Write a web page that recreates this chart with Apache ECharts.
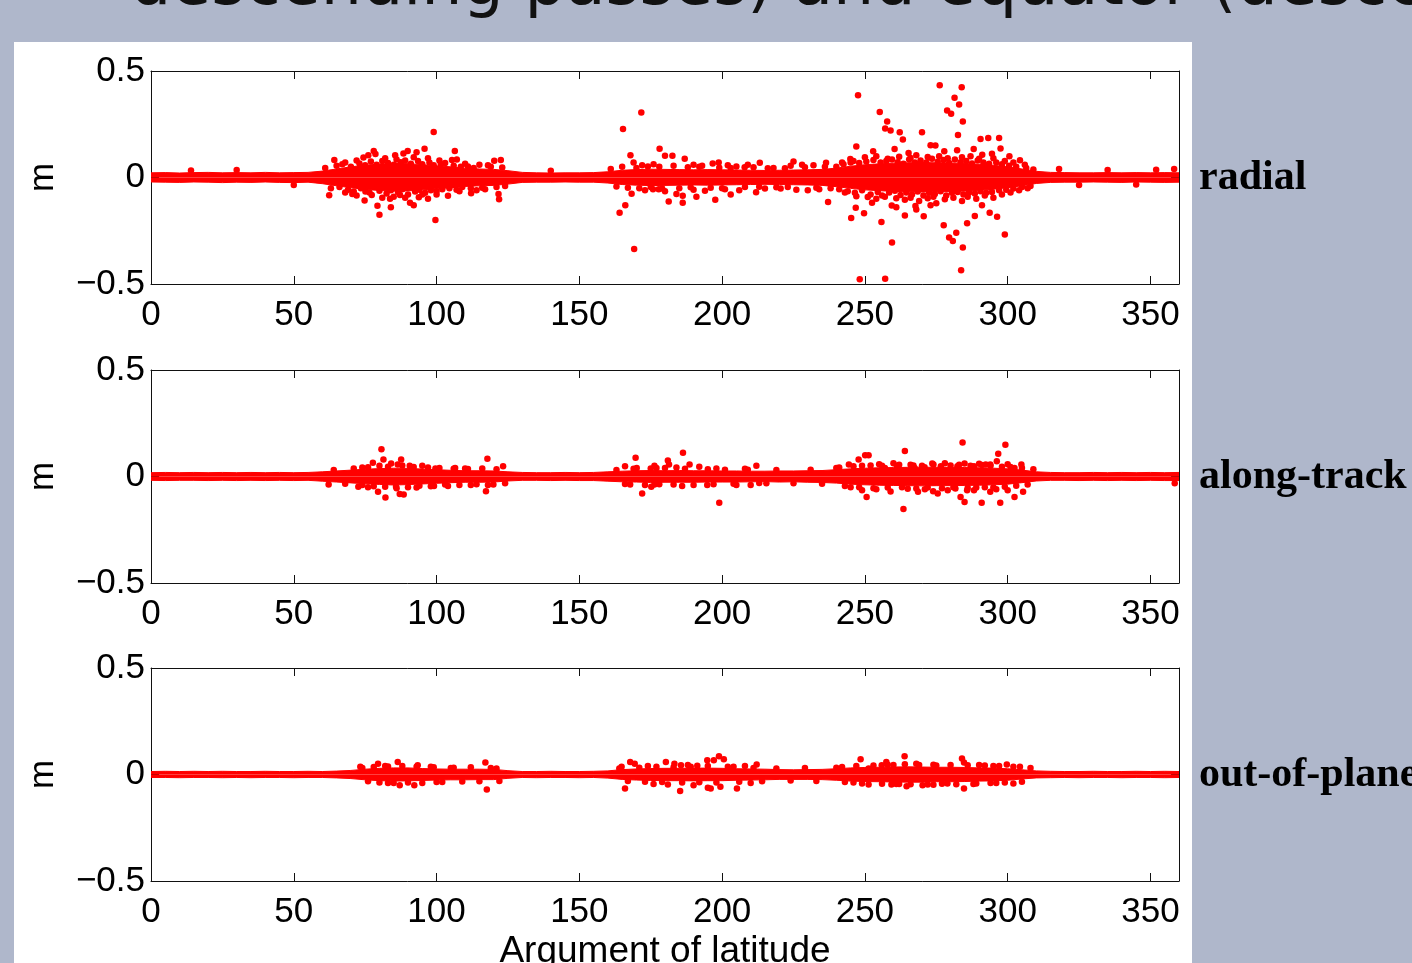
<!DOCTYPE html>
<html lang="en">
<head>
<meta charset="UTF-8">
<title>Residuals vs argument of latitude</title>
<script src="https://cdn.jsdelivr.net/npm/echarts@6/dist/echarts.min.js"></script>
<style>
html,body{margin:0;padding:0;background:#afb7cb;}
#main{width:1412px;height:963px;}
</style>
</head>
<body>
<div id="main"></div>
<script type="text/javascript">
// sampling positions of the dense core envelope (deg)
var bandDeg = [0,5,10,15,20,25,30,35,40,45,50,55,60,65,70,75,80,85,90,95,100,105,110,115,120,125,130,135,140,145,150,155,160,165,170,175,180,185,190,195,200,205,210,215,220,225,230,235,240,245,250,255,260,265,270,275,280,285,290,295,300,305,310,315,320,325,330,335,340,345,350,355,360];

// radial: upper / lower edge of the solid core (m)
var radialUp = [0.022,0.023,0.021,0.023,0.024,0.022,0.023,0.022,0.024,0.022,0.023,0.024,
  0.03,0.04,0.05,0.058,0.063,0.066,0.065,0.06,0.055,0.05,0.044,0.04,0.038,0.032,
  0.024,0.022,0.021,0.022,0.022,0.023,0.027,0.034,0.037,0.039,0.038,0.037,0.036,0.037,0.036,0.035,0.034,0.033,0.034,0.035,0.036,0.038,
  0.044,0.053,0.06,0.064,0.067,0.069,0.07,0.069,0.068,0.066,0.062,0.057,0.05,0.04,0.029,0.024,0.023,0.022,0.022,0.023,0.022,0.023,0.022,0.023,0.022];
var radialLow = [-0.021,-0.022,-0.023,-0.021,-0.022,-0.024,-0.022,-0.023,-0.021,-0.023,-0.024,-0.022,
  -0.029,-0.039,-0.048,-0.056,-0.061,-0.064,-0.063,-0.058,-0.053,-0.048,-0.042,-0.039,-0.037,-0.031,
  -0.023,-0.022,-0.022,-0.021,-0.022,-0.022,-0.026,-0.033,-0.036,-0.038,-0.037,-0.036,-0.035,-0.036,-0.035,-0.034,-0.033,-0.032,-0.033,-0.034,-0.035,-0.037,
  -0.043,-0.051,-0.058,-0.062,-0.065,-0.067,-0.068,-0.067,-0.066,-0.064,-0.06,-0.055,-0.048,-0.039,-0.028,-0.023,-0.022,-0.022,-0.021,-0.022,-0.023,-0.021,-0.022,-0.023,-0.022];

// along-track
var alongUp = [0.018,0.019,0.018,0.019,0.018,0.019,0.018,0.019,0.018,0.019,0.018,0.019,
  0.022,0.026,0.03,0.034,0.037,0.039,0.038,0.035,0.032,0.029,0.027,0.027,0.026,0.022,
  0.019,0.018,0.018,0.019,0.018,0.019,0.022,0.025,0.027,0.028,0.027,0.028,0.027,0.027,0.026,0.026,0.025,0.025,0.026,0.026,0.027,0.028,
  0.032,0.036,0.039,0.041,0.042,0.043,0.044,0.043,0.043,0.042,0.041,0.039,0.036,0.03,0.022,0.019,0.018,0.018,0.019,0.018,0.019,0.018,0.019,0.018,0.019];
var alongLow = [-0.018,-0.019,-0.018,-0.018,-0.019,-0.018,-0.019,-0.018,-0.019,-0.018,-0.019,-0.018,
  -0.022,-0.026,-0.03,-0.034,-0.037,-0.04,-0.038,-0.035,-0.032,-0.029,-0.027,-0.027,-0.026,-0.021,
  -0.018,-0.018,-0.019,-0.018,-0.019,-0.019,-0.022,-0.025,-0.026,-0.028,-0.027,-0.027,-0.027,-0.026,-0.026,-0.026,-0.025,-0.024,-0.026,-0.025,-0.027,-0.028,
  -0.031,-0.036,-0.039,-0.041,-0.042,-0.043,-0.044,-0.043,-0.043,-0.042,-0.041,-0.039,-0.036,-0.029,-0.021,-0.018,-0.018,-0.019,-0.018,-0.019,-0.018,-0.019,-0.018,-0.019,-0.019];

// out-of-plane
var crossUp = [0.014,0.015,0.014,0.015,0.014,0.015,0.014,0.014,0.015,0.014,0.014,0.015,
  0.014,0.016,0.019,0.025,0.029,0.031,0.031,0.028,0.026,0.025,0.025,0.025,0.024,0.018,
  0.014,0.014,0.015,0.014,0.014,0.015,0.017,0.023,0.026,0.028,0.029,0.029,0.03,0.03,0.029,0.027,0.026,0.025,0.023,0.022,0.023,0.024,
  0.027,0.031,0.033,0.034,0.035,0.036,0.035,0.034,0.034,0.033,0.031,0.03,0.027,0.022,0.017,0.015,0.014,0.014,0.015,0.014,0.014,0.015,0.014,0.015,0.014];
var crossLow = [-0.014,-0.014,-0.015,-0.014,-0.014,-0.015,-0.014,-0.015,-0.014,-0.014,-0.015,-0.014,
  -0.014,-0.016,-0.019,-0.025,-0.029,-0.031,-0.03,-0.028,-0.026,-0.025,-0.025,-0.024,-0.024,-0.018,
  -0.014,-0.015,-0.014,-0.014,-0.015,-0.014,-0.017,-0.023,-0.026,-0.028,-0.029,-0.029,-0.03,-0.029,-0.029,-0.027,-0.026,-0.025,-0.023,-0.023,-0.023,-0.024,
  -0.027,-0.031,-0.033,-0.034,-0.035,-0.036,-0.036,-0.034,-0.034,-0.033,-0.031,-0.03,-0.027,-0.021,-0.016,-0.015,-0.014,-0.015,-0.014,-0.014,-0.015,-0.014,-0.014,-0.015,-0.014];

// individual dots outside the core [deg, m]
var radialPts = [
  [276.2,0.433],[283.9,0.424],[247.6,0.386],[281.4,0.375],[283.0,0.343],[278.8,0.315],[280.2,0.299],[255.2,0.307],[257.8,0.263],[284.3,0.263],
  [257.1,0.23],[259.0,0.221],[262.2,0.213],[263.3,0.178],[270.0,0.212],[282.6,0.199],[290.5,0.181],[293.2,0.185],[297.0,0.185],[247.0,0.145],
  [273.0,0.151],[274.7,0.15],[288.1,0.134],[297.5,0.136],[300.6,0.1],[304.3,0.081],[236.4,0.069],[358.3,0.04],
  [237.1,-0.115],[245.2,-0.19],[246.8,-0.142],[249.7,-0.168],[255.8,-0.209],[259.5,-0.305],[264,-0.178],[270.6,-0.182],[277.6,-0.224],[279.5,-0.282],
  [280.8,-0.298],[282,-0.259],[284.3,-0.329],[283.7,-0.435],[285.8,-0.215],[288.5,-0.181],[293.7,-0.165],[296.3,-0.184],[299,-0.268],[248.2,-0.478],
  [257.1,-0.475],[259.4,-0.131],[252.5,-0.118],[267.7,-0.134],[275.0,-0.121],
  [252.9,0.123],[260.4,0.134],[265.3,0.115],[277.8,0.123],[282.3,0.128],[291.1,0.107],[294.5,0.112],[244.9,0.087],
  [250,0.095],[254,0.1],[258,0.088],[262,0.098],[266,0.092],[268,0.105],[272,0.096],[276,0.1],[279,0.09],[284,0.095],[287,0.1],[290,0.088],
  [295,0.09],[299,0.078],[302,0.07],[306,0.06],[242,0.07],[246,0.078],
  [243,-0.07],[247,-0.088],[251,-0.092],[254,-0.1],[257,-0.09],[261,-0.098],[264,-0.105],[266,-0.095],[269,-0.11],[272,-0.098],[274,-0.09],
  [278,-0.102],[281,-0.095],[284,-0.11],[286,-0.09],[289,-0.1],[292,-0.085],[295,-0.095],[298,-0.08],[301,-0.07],[304,-0.06],[307,-0.05],
  [261,-0.14],[268,-0.15],[291,-0.13],[273,-0.13],
  [240,0.05],[241,-0.055],[242.5,0.062],[244,-0.065],[245,0.07],[246.5,-0.072],[248,0.068],[249,-0.06],[250.5,0.075],[252,-0.08],[253,0.082],
  [254.5,-0.068],[255.5,0.07],[256,-0.085],[257.5,0.078],[258.5,-0.07],[259.5,0.085],[260.5,-0.062],[261.5,0.072],[262.5,-0.082],[263.5,0.065],
  [264.5,-0.07],[265.5,0.085],[266.5,-0.08],[267.5,0.07],[268.5,-0.066],[269.5,0.08],[270.5,-0.085],[271.5,0.07],[272.5,-0.072],[273.5,0.088],
  [274.5,-0.078],[275.5,0.074],[276.5,-0.065],[277.5,0.082],[278.5,-0.085],[279.5,0.068],[280.5,-0.072],[281.5,0.085],[282.5,-0.068],[283.5,0.072],
  [284.5,-0.08],[285.5,0.078],[286.5,-0.07],[287.5,0.066],[288.5,-0.075],[289.5,0.08],[290.5,-0.065],[291.5,0.07],[292.5,-0.072],[293.5,0.064],
  [294.5,-0.068],[296,0.07],[297,-0.06],[298,0.062],[299.5,-0.058],[300.5,0.055],[302,-0.052],[303,0.05],[305,-0.045],[306.5,0.045],[308,-0.04],[309,0.038],
  [64.2,0.082],[62.4,-0.083],[70.5,-0.077],[74.8,-0.108],[79.3,-0.133],[80.0,-0.175],[74.4,0.094],[76.1,0.104],[78.6,0.11],[85.5,0.105],
  [88.4,0.113],[89.9,0.124],[95.8,0.135],[99.0,0.214],[99.6,-0.2],[106.4,0.125],[105.4,0.082],[107.1,0.085],[83.7,-0.1],[87.2,-0.082],
  [90.7,-0.118],[93.8,-0.093],[97.0,-0.1],[75.1,-0.066],[77.3,-0.082],[104,-0.086],[120.2,0.079],[122.5,0.082],[121.7,-0.077],[121.9,-0.102],[112.1,-0.074],
  [68,0.07],[72,0.08],[82,0.09],[86,0.085],[92,0.095],[97,0.09],[101,0.08],[110,0.065],[115,0.06],[118,0.058],
  [68,-0.07],[72,-0.085],[81,-0.095],[85,-0.09],[89,-0.095],[95,-0.08],[100,-0.08],[108,-0.065],[114,-0.06],[117,-0.055],[84,-0.14],[92,-0.13],[78,0.125],[93,0.118],
  [61,0.045],[63,-0.05],[65,0.055],[66,-0.045],[67,0.062],[69,-0.058],[70,0.05],[71,-0.066],[73,0.066],[73.5,-0.05],[75,0.058],[76.5,-0.07],
  [77,0.075],[79,0.06],[80,-0.062],[81,0.078],[82.5,-0.075],[83,0.068],[84,-0.06],[85,0.06],[86.5,-0.068],[87.5,0.072],[88,-0.055],[89,0.08],
  [90,-0.08],[91,0.064],[92.5,-0.066],[93.5,0.078],[94,-0.058],[95,0.062],[96,-0.072],[97.5,0.07],[98,-0.06],[99,0.058],[100,-0.064],[101.5,0.062],
  [102,-0.055],[103,0.068],[104.5,-0.05],[106,0.055],[107,-0.058],[108.5,0.05],[109,-0.045],[111,0.052],[112,-0.05],[113,0.045],[116,-0.048],
  [119,0.05],[121,-0.045],[123,0.047],[124,-0.04],
  [165.3,0.228],[171.7,0.305],[167.9,0.104],[169.0,0.071],[164.1,-0.166],[166.1,-0.13],[168.3,-0.076],[169.2,-0.336],[178.1,0.135],[180.0,0.102],
  [182.6,0.102],[186.9,0.088],[196.7,0.066],[198.8,0.071],[181.3,-0.113],[184,-0.077],[186.2,-0.086],[186.2,-0.118],[197.6,-0.105],[175.8,-0.055],
  [177.8,-0.055],[211.9,-0.069],[220.5,-0.052],[213.2,0.069],[216,0.044],[207.9,0.048],
  [172,0.058],[176,0.062],[190,0.06],[193,0.055],[202,0.058],[205,0.052],[209,0.06],[224,0.055],[228,0.06],[232,0.058],
  [173,-0.06],[180,-0.065],[190,-0.058],[194,-0.062],[201,-0.055],[206,-0.06],[215,-0.052],[226,-0.058],[230,-0.06],[234,-0.055],[191,-0.09],[203,-0.08],[225,0.075],
  [161,0.04],[163,-0.042],[165,0.05],[167,-0.048],[170,0.045],[171,-0.05],[174,0.052],[175,-0.045],[178,0.05],[179,-0.052],[183,0.055],[185,-0.05],
  [188,0.048],[189,-0.046],[192,0.05],[196,-0.048],[199,0.046],[200,-0.05],[203,0.045],[208,-0.045],[211,0.048],[213,-0.044],[218,0.045],[219,-0.046],
  [222,0.044],[223,-0.045],[229,0.048],[233,-0.048],[236,0.05],[238,-0.05],
  [30,0.035],[50,-0.035],[14,0.033],[140,0.032],[335,0.035],[345,-0.033],[318,0.04],[325,-0.035],[352,0.036]
];
var alongPts = [
  [80.7,0.128],[87.6,0.08],[81.4,0.08],[84.1,0.061],[86.4,0.056],[90.6,0.051],[77.7,0.064],[99.6,0.037],[106.5,0.04],[117.8,0.083],[123.3,0.048],
  [62.2,-0.037],[72.6,-0.048],[79.5,-0.072],[82.1,-0.099],[87.1,-0.082],[88.5,-0.085],[85.8,-0.048],[117.3,-0.069],[119.9,-0.037],[99.1,-0.045],
  [166,0.048],[169.7,0.088],[170.1,0.04],[176.3,0.051],[177,0.04],[181,0.075],[186.3,0.112],[188.6,0.056],[192,0.046],[181.4,0.056],
  [167.8,-0.037],[172,-0.08],[175.2,-0.048],[176.3,-0.037],[194.8,-0.04],[199,-0.123],[205,-0.04],[215.5,-0.032],[212,0.051],
  [244.4,0.056],[247.8,0.08],[250.1,0.1],[251.3,0.1],[249,0.051],[264,0.12],[284.2,0.16],[299.2,0.149],[296.7,0.107],[296.2,0.072],
  [293.9,0.056],[288.2,0.048],[282.4,0.048],[273.6,0.061],[276.6,0.048],[304.8,0.056],[292.3,0.056],[284.9,0.061],[302.4,0.04],
  [257,0.04],[261.2,0.05],[267.4,0.04],[270.9,0.043],
  [250.6,-0.096],[249,-0.064],[263.5,-0.152],[268.6,-0.072],[273.9,-0.069],[275.5,-0.08],[281.7,-0.056],[283.5,-0.096],[284.9,-0.12],[290.9,-0.123],
  [293.9,-0.072],[297.4,-0.123],[302.4,-0.096],[305.4,-0.072],[288.2,-0.064],[285.8,-0.064],[358.5,-0.032],
  [92,0.045],[95,0.05],[74,0.042],[110,0.038],[76,-0.05],[93,-0.052],[104,-0.045],[112,-0.04],[184,0.042],[198,0.038],[208,0.036],
  [186,-0.045],[210,-0.04],[255,0.058],[260,0.062],[266,0.055],[278,0.062],[290,0.06],[300,0.058],[254,-0.06],[259,-0.07],[265,-0.058],
  [271,-0.06],[279,-0.065],[296,-0.06],[300,-0.065],[245,-0.05],[240,0.04],
  [64,0.03],[68,-0.034],[71,0.038],[74,-0.04],[76,0.044],[78,-0.046],[80,0.05],[82,-0.048],[83,0.046],[86,-0.055],[88,0.052],[90,-0.05],
  [91,0.045],[94,-0.044],[97,0.042],[98,-0.046],[101,0.04],[103,-0.038],[106,0.036],[108,-0.04],[111,0.035],[114,-0.036],[116,0.038],[118,-0.04],
  [121,0.034],[124,-0.032],
  [163,0.03],[166,-0.035],[169,0.036],[173,-0.04],[175,0.038],[178,-0.036],[180,0.04],[183,-0.038],[187,0.036],[190,-0.04],[195,0.034],[197,-0.036],
  [201,0.032],[204,-0.034],[209,0.032],[213,-0.03],[219,0.03],[225,-0.032],[231,0.032],[235,-0.034],
  [241,0.042],[243,-0.045],[246,0.048],[248,-0.05],[252,0.052],[253,-0.055],[256,0.05],[258,-0.052],[262,0.055],[263,-0.05],[267,0.052],[268,-0.056],
  [270,0.05],[272,-0.052],[274,0.056],[277,-0.055],[280,0.052],[281,-0.05],[283,0.055],[286,-0.054],[287,0.05],[289,-0.052],[291,0.054],[292,-0.05],
  [294,0.05],[295,-0.052],[298,0.046],[299,-0.048],[301,0.045],[303,-0.044],[305,0.04],[307,-0.038],[309,0.034]
];
var crossPts = [
  [86.4,0.059],[93.4,0.044],[79.5,0.051],[73.3,0.036],[92.2,-0.05],[87.1,-0.05],[117.1,0.056],[117.6,-0.07],[121,0.028],
  [167.8,0.059],[169.4,0.051],[164.8,0.036],[180.3,0.059],[183.3,0.051],[185.6,0.044],[191.3,0.041],[194.8,0.067],[197.1,0.067],[198.9,0.086],
  [200.6,0.072],[204,0.036],[212.1,0.047],[166,-0.066],[181,-0.047],[185.3,-0.078],[195,-0.062],[196,-0.066],[199.4,-0.058],[205.2,-0.066],
  [248.5,0.072],[257.5,0.059],[263.9,0.086],[284,0.075],[284.7,0.056],[299.7,0.047],[304.3,0.036],[255.9,0.044],[251.3,0.028],
  [264.6,-0.055],[270.2,-0.05],[278.9,-0.042],[284.7,-0.066],[302,-0.042],[251.3,-0.047],[259.3,-0.047],
  [82,0.04],[98,0.036],[105,0.03],[83,-0.04],[100,-0.035],[174,0.04],[188,0.045],[208,0.04],[176,-0.045],[190,-0.05],[210,-0.04],
  [260,0.045],[268,0.05],[275,0.042],[290,0.045],[295,0.04],[262,-0.045],[274,-0.048],[288,-0.045],[296,-0.04],[246,-0.038],[242,0.035],
  [74,0.03],[76,-0.032],[78,0.035],[80,-0.038],[83,0.038],[85,-0.04],[88,0.04],[90,-0.038],[93,0.036],[95,-0.04],[99,0.034],[102,-0.035],
  [106,0.032],[109,-0.033],[112,0.034],[115,-0.032],[119,0.03],[122,-0.03],
  [164,0.028],[167,-0.03],[171,0.032],[173,-0.034],[177,0.036],[179,-0.035],[183,0.034],[186,-0.038],[189,0.036],[192,-0.036],[195,0.04],[198,-0.038],
  [202,0.036],[206,-0.034],[211,0.03],[214,-0.032],[219,0.028],[224,-0.028],[229,0.03],[233,-0.03],
  [240,0.032],[243,-0.035],[247,0.04],[249,-0.042],[253,0.042],[256,-0.044],[258,0.046],[261,-0.045],[264,0.048],[266,-0.046],[269,0.045],[272,-0.047],
  [274,0.046],[277,-0.044],[280,0.045],[282,-0.046],[286,0.044],[289,-0.042],[292,0.042],[294,-0.04],[297,0.04],[299,-0.038],[302,0.036],[305,-0.034],[308,0.03]
];

var panelNames = ['radial', 'along-track', 'out-of-plane'];
var panelUp = [radialUp, alongUp, crossUp];
var panelLow = [radialLow, alongLow, crossLow];
var panelPts = [radialPts, alongPts, crossPts];
var gridTops = [71, 370, 668];
var gridH = 213;

var red = '#ff0000';
var ink = '#111';
var labelFont = {color: '#000', fontFamily: 'Liberation Sans', fontSize: 35};

function pairs(xs, ys) {
  var out = [];
  for (var i = 0; i < xs.length; i++) out.push([xs[i], ys[i]]);
  return out;
}

var grids = [], xAxes = [], yAxes = [], series = [], graphics = [];

graphics.push({type: 'rect', left: 14, top: 42, shape: {width: 1178, height: 921}, style: {fill: '#fff'}, z: -10});
graphics.push({type: 'text', left: 130, top: -45, style: {text: 'descending passes) and equator (descending passes)', fontFamily: 'DejaVu Sans', fontSize: 65, fill: '#111'}});

for (var p = 0; p < 3; p++) {
  grids.push({left: 151, top: gridTops[p], width: 1028, height: gridH, show: false, containLabel: false, outerBoundsMode: 'none'});
  var ax = {
    type: 'value', gridIndex: p, min: 0, max: 360, interval: 50,
    axisLine: {show: true, onZero: false, lineStyle: {color: ink, width: 1}},
    axisTick: {show: true, inside: true, length: 8, lineStyle: {color: ink}},
    splitLine: {show: false}
  };
  xAxes.push(Object.assign({}, ax, {
    position: 'bottom',
    axisLabel: Object.assign({show: true, margin: 14, showMaxLabel: false}, labelFont),
    name: p === 2 ? 'Argument of latitude' : '',
    nameLocation: 'middle', nameGap: 52,
    nameTextStyle: Object.assign({}, labelFont, {fontSize: 37})
  }));
  xAxes.push(Object.assign({}, ax, {position: 'top', axisLabel: {show: false}}));
  var ay = {
    type: 'value', gridIndex: p, min: -0.5, max: 0.5, interval: 0.5,
    axisLine: {show: true, onZero: false, lineStyle: {color: ink, width: 1}},
    axisTick: {show: true, inside: true, length: 8, lineStyle: {color: ink}},
    splitLine: {show: false}
  };
  yAxes.push(Object.assign({}, ay, {
    position: 'left',
    axisLabel: Object.assign({show: true, margin: 6, formatter: function (v) {
      return v < 0 ? '\u2212' + String(-v) : String(v);
    }}, labelFont),
    name: 'm', nameLocation: 'middle', nameGap: 90, nameTextStyle: labelFont
  }));
  yAxes.push(Object.assign({}, ay, {position: 'right', axisLabel: {show: false}}));

  var xi = p * 2, yi = p * 2;
  series.push({
    type: 'line', xAxisIndex: xi, yAxisIndex: yi, data: pairs(bandDeg, panelUp[p]),
    symbol: 'none', lineStyle: {color: red, width: 1}, areaStyle: {color: red, opacity: 1}, z: 2
  });
  series.push({
    type: 'line', xAxisIndex: xi, yAxisIndex: yi, data: pairs(bandDeg, panelLow[p]),
    symbol: 'none', lineStyle: {color: red, width: 1}, areaStyle: {color: red, opacity: 1}, z: 2
  });
  series.push({
    type: 'scatter', xAxisIndex: xi, yAxisIndex: yi, data: panelPts[p],
    symbolSize: 6.5, itemStyle: {color: red, opacity: 1}, z: 3
  });

  graphics.push({
    type: 'text', left: 1199, top: gridTops[p] + gridH / 2 - 20,
    style: {text: panelNames[p], fontFamily: 'Liberation Serif', fontWeight: 'bold', fontSize: 42, fill: '#000'}
  });
}

var myChart = echarts.init(document.getElementById('main'));
myChart.setOption({
  backgroundColor: '#afb7cb',
  animation: false,
  grid: grids,
  xAxis: xAxes,
  yAxis: yAxes,
  series: series,
  graphic: graphics
});
</script>
</body>
</html>
